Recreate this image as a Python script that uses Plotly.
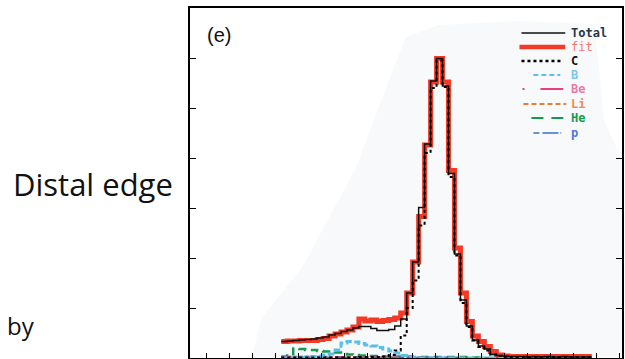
import plotly.graph_objects as go

# ---------------- data (bin index, per-bin yields in arbitrary units) ----------------
n_bins = 52
bin_edges = list(range(n_bins + 1))

total = [0.33, 0.34, 0.35, 0.36, 0.37, 0.38, 0.40, 0.42, 0.46, 0.49,
         0.53, 0.56, 0.60, 0.63, 0.63, 0.59, 0.55, 0.55, 0.57, 0.64,
         0.78, 1.30, 1.92, 3.01, 4.28, 5.54, 5.99, 5.44, 3.69, 2.08,
         1.16, 0.64, 0.36, 0.24, 0.18, 0.07, 0.05, 0.04, 0.03, 0.03,
         0.03, 0.02, 0.03, 0.02, 0.03, 0.02, 0.02, 0.03, 0.02, 0.02, 0.02, 0.02]
fit = [0.33, 0.34, 0.34, 0.35, 0.35, 0.35, 0.37, 0.39, 0.44, 0.48,
       0.52, 0.56, 0.62, 0.78, 0.74, 0.76, 0.73, 0.75, 0.77, 0.80,
       0.90, 1.30, 1.92, 2.83, 4.26, 5.52, 5.99, 5.52, 3.75, 2.20,
       1.30, 0.73, 0.44, 0.33, 0.23, 0.13, 0.06, 0.04, 0.03, 0.03,
       0.03, 0.03, 0.03, 0.03, 0.03, 0.03, 0.03, 0.03, 0.03, 0.03, 0.03, 0.03]
carbon = [0.01, 0.01, 0.01, 0.01, 0.01, 0.01, 0.01, 0.01, 0.01, 0.01,
          0.01, 0.01, 0.01, 0.02, 0.02, 0.02, 0.02, 0.03, 0.06, 0.15,
          0.45, 1.00, 1.55, 2.65, 4.10, 5.40, 5.95, 5.42, 3.62, 2.05,
          1.10, 0.62, 0.35, 0.22, 0.15, 0.07, 0.04, 0.02, 0.02, 0.02,
          0.02, 0.02, 0.02, 0.02, 0.02, 0.02, 0.02, 0.02, 0.02, 0.02, 0.02, 0.02]
boron = [0.00, 0.00, 0.01, 0.01, 0.02, 0.03, 0.04, 0.06, 0.08, 0.16,
         0.30, 0.33, 0.32, 0.29, 0.26, 0.24, 0.21, 0.18, 0.14, 0.10,
         0.05, 0.02, 0.01, 0.00, 0.00, 0.00, 0.00, 0.00, 0.00, 0.00,
         0.00, 0.00, 0.00, 0.00, 0.00, 0.00, 0.00, 0.00, 0.00, 0.00,
         0.00, 0.00, 0.00, 0.00, 0.00, 0.00, 0.00, 0.00, 0.00, 0.00, 0.00, 0.00]
beryllium = [0.02, 0.02, 0.02, 0.02, 0.02, 0.02, 0.02, 0.02, 0.02, 0.02,
             0.02, 0.02, 0.02, 0.02, 0.02, 0.02, 0.02, 0.02, 0.01, 0.01,
             0.01, 0.01, 0.01, 0.01, 0.00, 0.00, 0.00, 0.00, 0.00, 0.00,
             0.00, 0.00, 0.00, 0.00, 0.00, 0.00, 0.00, 0.00, 0.00, 0.00,
             0.00, 0.00, 0.00, 0.00, 0.00, 0.00, 0.00, 0.00, 0.00, 0.00, 0.00, 0.00]
lithium = [0.03, 0.03, 0.03, 0.03, 0.03, 0.03, 0.03, 0.03, 0.02, 0.02,
           0.02, 0.02, 0.02, 0.02, 0.02, 0.02, 0.01, 0.01, 0.01, 0.01,
           0.01, 0.01, 0.01, 0.01, 0.01, 0.01, 0.00, 0.00, 0.00, 0.00,
           0.00, 0.00, 0.00, 0.00, 0.00, 0.00, 0.00, 0.00, 0.00, 0.00,
           0.00, 0.00, 0.00, 0.00, 0.00, 0.00, 0.00, 0.00, 0.00, 0.00, 0.00, 0.00]
helium = [0.03, 0.05, 0.19, 0.18, 0.16, 0.16, 0.14, 0.13, 0.13, 0.11,
          0.08, 0.07, 0.06, 0.05, 0.04, 0.04, 0.03, 0.03, 0.03, 0.03,
          0.03, 0.03, 0.02, 0.02, 0.02, 0.02, 0.02, 0.02, 0.02, 0.02,
          0.02, 0.01, 0.01, 0.01, 0.00, 0.00, 0.00, 0.00, 0.00, 0.00,
          0.00, 0.00, 0.00, 0.00, 0.00, 0.00, 0.00, 0.00, 0.00, 0.00, 0.00, 0.00]
proton = [0.01, 0.01, 0.01, 0.01, 0.01, 0.01, 0.01, 0.01, 0.01, 0.01,
          0.01, 0.01, 0.01, 0.01, 0.01, 0.01, 0.01, 0.01, 0.01, 0.01,
          0.01, 0.01, 0.01, 0.01, 0.01, 0.01, 0.01, 0.01, 0.01, 0.01,
          0.00, 0.00, 0.00, 0.00, 0.00, 0.00, 0.00, 0.00, 0.00, 0.00,
          0.00, 0.00, 0.00, 0.00, 0.00, 0.00, 0.00, 0.00, 0.00, 0.00, 0.00, 0.00]

legend_names = ["Total", "fit", "C", "B", "Be", "Li", "He", "p"]
y_tick_values = [0, 1, 2, 3, 4, 5, 6, 7]

# ---------------- layout geometry (pixels of a 625x359 page) ----------------
W, H = 625, 359
L, R, T, B = 190, 1, 8, 1
PW, PH = W - L - R, H - T - B


def px(xp):
    return (xp - L) / PW


def py(yp):
    return (H - B - yp) / PH


def steps(vals):
    return vals + [vals[-1]]


fig = go.Figure()

styles = [
    (fit, dict(color="#f23a26", width=5)),
    (helium, dict(color="#159a4c", width=2.5, dash="8px,5px")),
    (lithium, dict(color="#f07a30", width=2, dash="4px,2px")),
    (beryllium, dict(color="#e8407a", width=2, dash="dashdot")),
    (proton, dict(color="#3a6fd0", width=2, dash="6px,3px")),
    (boron, dict(color="#5cbde8", width=3, dash="7px,3px")),
    (total, dict(color="#111111", width=1.5)),
    (carbon, dict(color="#000000", width=2, dash="dot")),
]
for vals, line in styles:
    fig.add_trace(go.Scatter(
        x=bin_edges, y=steps(vals), mode="lines", line=dict(shape="hv", **line),
        showlegend=False, hoverinfo="skip"))

# x range in bin units: left axis at x=190 px, right at 624 px, bins 6 px wide starting at 281.7 px
bw = 6.0
x0px = 281.7
xr = [(L - x0px) / bw, (W - R - x0px) / bw]

fig.update_layout(
    width=W, height=H, margin=dict(l=L, r=R, t=T, b=B),
    paper_bgcolor="white", plot_bgcolor="white",
    xaxis=dict(range=xr, showgrid=False, zeroline=False, showline=True, linecolor="black",
               linewidth=1.5, mirror=True, ticks="inside", ticklen=5, tickcolor="black",
               tick0=(230 - x0px) / bw, dtick=23 / bw, showticklabels=False),
    yaxis=dict(range=[0, 7], showgrid=False, zeroline=False, showline=True, linecolor="black",
               linewidth=1.5, mirror="ticks", ticks="inside", ticklen=6, tickcolor="black",
               tickvals=y_tick_values, showticklabels=False),
    showlegend=False,
)

# faint scan shading behind the histogram
shade = [(407, 37), (440, 25), (520, 21), (595, 24), (600, 60), (606, 120), (624, 160),
         (624, 357), (252, 357), (262, 318), (303, 267), (357, 167), (390, 80)]
path = "M " + " L ".join(f"{px(a):.4f},{py(b):.4f}" for a, b in shade) + " Z"
fig.add_shape(type="path", path=path, xref="paper", yref="paper",
              fillcolor="#f8f9fb", line=dict(width=0), layer="below")

# manual legend
leg_rows = [
    ("Total", 33, 523, 567, dict(color="#111111", width=1.5), "#2a3646"),
    ("fit", 47, 521, 567, dict(color="#f23a26", width=4.5), "#f27a6a"),
    ("C", 61, 523, 563, dict(color="#000000", width=2.5, dash="dot"), "#111111"),
    ("B", 75, 535, 562, dict(color="#5cbde8", width=2, dash="5px,3px"), "#7cc6ee"),
    ("Be", 89, 524, 565, dict(color="#e8407a", width=2, dash="2px,16px,24px,2px"), "#ee7aa0"),
    ("Li", 104, 525, 568, dict(color="#f07a30", width=2, dash="5px,3px"), "#f08a50"),
    ("He", 118, 533, 565, dict(color="#159a4c", width=2, dash="12px,8px"), "#159a4c"),
    ("p", 133, 535, 563, dict(color="#3a6fd0", width=1.5, dash="6px,3px,16px,2px"), "#4a7ad8"),
]
for name, yy, xa, xb, line, tcol in leg_rows:
    fig.add_shape(type="line", xref="paper", yref="paper", x0=px(xa), x1=px(xb),
                  y0=py(yy), y1=py(yy), line=line)
    fig.add_annotation(x=px(571), y=py(yy), xref="paper", yref="paper",
                       text=f"<b>{name}</b>" if name != "fit" else name,
                       showarrow=False, xanchor="left", yanchor="middle",
                       font=dict(family="DejaVu Sans Mono", size=12, color=tcol))

fig.add_annotation(x=px(219), y=py(35), xref="paper", yref="paper", text="(e)",
                   showarrow=False, xanchor="center", yanchor="middle",
                   font=dict(family="Liberation Sans", size=20, color="#111111"))

fig.add_annotation(x=px(10), y=py(184), xref="paper", yref="paper", text="Distal edge",
                   showarrow=False, xanchor="left", yanchor="middle",
                   font=dict(family="Open Sans", size=31, color="#111111"))
fig.add_annotation(x=px(4), y=py(325), xref="paper", yref="paper", text="by",
                   showarrow=False, xanchor="left", yanchor="middle",
                   font=dict(family="Open Sans", size=24, color="#111111"))

fig.write_html("out.html")
